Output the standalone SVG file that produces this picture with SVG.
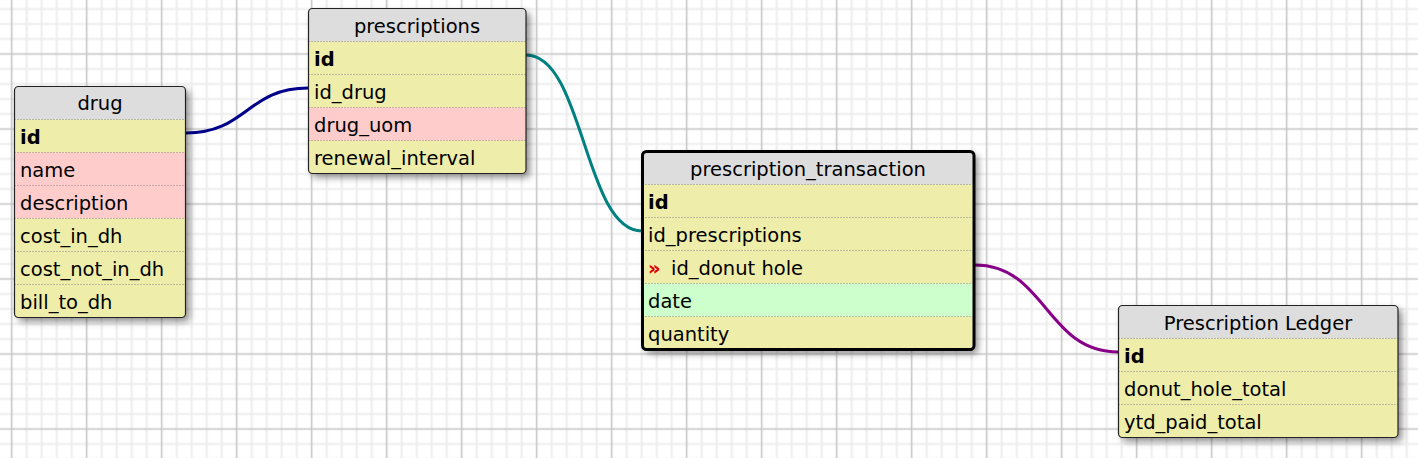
<svg xmlns="http://www.w3.org/2000/svg" width="1418" height="458" viewBox="0 0 1418 458">
<style>
.t{font-family:"DejaVu Sans","Verdana",sans-serif;font-size:19.5px;fill:#000}
.h{text-anchor:middle}
.b{font-weight:bold}
.hd{fill:#dddddd}
.r{fill:#eeeeaa}
.p{fill:#ffcccc}
.g{fill:#ccffcc}
.sep{stroke:#888;stroke-width:1;stroke-dasharray:1,2}
.bd{fill:none;stroke:#222;stroke-width:1.2}
.bd3{fill:none;stroke:#000;stroke-width:3}
.c{fill:none;stroke-width:3}
</style>
<defs>
<pattern id="grid" patternUnits="userSpaceOnUse" x="4.2" y="46.5" width="75" height="75">
<path d="M22.5,0V75M37.5,0V75M52.5,0V75M67.5,0V75M0,22.5H75M0,37.5H75M0,52.5H75M0,67.5H75" stroke="#ededed" stroke-width="2" fill="none"/>
<path d="M7.5,0V75M0,7.5H75" stroke="#c4c4c4" stroke-width="1.5" fill="none"/>
</pattern>
<filter id="sh" x="-10%" y="-10%" width="130%" height="130%">
<feDropShadow dx="4" dy="4" stdDeviation="3.5" flood-color="#000" flood-opacity="0.45"/>
</filter>
</defs>
<rect width="1418" height="458" fill="#ffffff"/>
<rect width="1418" height="458" fill="url(#grid)"/>

<g id="connectors">
<path class="c" stroke="#00008b" d="M186,133 C247,133 247,88 308,88"/>
<path class="c" stroke="#008080" d="M526,55 C584,55 584,231 642,231"/>
<path class="c" stroke="#880088" d="M975,265 C1046,265 1046,352 1118,352"/>
</g>

<g id="drug">
<rect x="14.5" y="86.5" width="171" height="231" rx="4" fill="#eeeeaa" filter="url(#sh)"/>
<path class="hd" d="M14.5,119.5V90.5a4,4 0 0 1 4,-4H181.5a4,4 0 0 1 4,4V119.5Z"/>
<rect class="p" x="14.5" y="152.5" width="171" height="66"/>
<path class="sep" d="M14.5,119.5H185.5M14.5,152.5H185.5M14.5,185.5H185.5M14.5,218.5H185.5M14.5,251.5H185.5M14.5,284.5H185.5"/>
<rect class="bd" x="14.5" y="86.5" width="171" height="231" rx="4"/>
<text class="t h" x="100" y="109.5">drug</text>
<text class="t b" x="20" y="143.5">id</text>
<text class="t" x="20" y="176.5">name</text>
<text class="t" x="20" y="209.5">description</text>
<text class="t" x="20" y="242.5">cost_in_dh</text>
<text class="t" x="20" y="275.5">cost_not_in_dh</text>
<text class="t" x="20" y="308.5">bill_to_dh</text>
</g>

<g id="prescriptions">
<rect x="308.5" y="8.5" width="217.5" height="165" rx="4" fill="#eeeeaa" filter="url(#sh)"/>
<path class="hd" d="M308.5,41.5V12.5a4,4 0 0 1 4,-4H522a4,4 0 0 1 4,4V41.5Z"/>
<rect class="p" x="308.5" y="107.5" width="217.5" height="33"/>
<path class="sep" d="M308.5,41.5H526M308.5,74.5H526M308.5,107.5H526M308.5,140.5H526"/>
<rect class="bd" x="308.5" y="8.5" width="217.5" height="165" rx="4"/>
<text class="t h" x="417" y="32.5">prescriptions</text>
<text class="t b" x="314" y="65.5">id</text>
<text class="t" x="314" y="98.5">id_drug</text>
<text class="t" x="314" y="131.5">drug_uom</text>
<text class="t" x="314" y="164.5">renewal_interval</text>
</g>

<g id="prescription_transaction">
<rect x="642.5" y="151.5" width="331.5" height="198" rx="4" fill="#eeeeaa" filter="url(#sh)"/>
<path class="hd" d="M642.5,184.5V155.5a4,4 0 0 1 4,-4H970a4,4 0 0 1 4,4V184.5Z"/>
<rect class="g" x="642.5" y="283.5" width="331.5" height="33"/>
<path class="sep" d="M642.5,184.5H974M642.5,217.5H974M642.5,250.5H974M642.5,283.5H974M642.5,316.5H974"/>
<rect class="bd3" x="642.5" y="151.5" width="331.5" height="198" rx="4"/>
<text class="t h" x="808" y="175.5">prescription_transaction</text>
<text class="t b" x="648" y="208.5">id</text>
<text class="t" x="648" y="241.5">id_prescriptions</text>
<text class="t b" x="648" y="274.5" style="fill:#e00000">»</text>
<text class="t" x="671" y="274.5">id_donut hole</text>
<text class="t" x="648" y="307.5">date</text>
<text class="t" x="648" y="340.5">quantity</text>
</g>

<g id="prescription_ledger">
<rect x="1118.5" y="305.5" width="279.5" height="132" rx="4" fill="#eeeeaa" filter="url(#sh)"/>
<path class="hd" d="M1118.5,338.5V309.5a4,4 0 0 1 4,-4H1394a4,4 0 0 1 4,4V338.5Z"/>
<path class="sep" d="M1118.5,338.5H1398M1118.5,371.5H1398M1118.5,404.5H1398"/>
<rect class="bd" x="1118.5" y="305.5" width="279.5" height="132" rx="4"/>
<text class="t h" x="1258" y="329.5">Prescription Ledger</text>
<text class="t b" x="1124" y="362.5">id</text>
<text class="t" x="1124" y="395.5">donut_hole_total</text>
<text class="t" x="1124" y="428.5">ytd_paid_total</text>
</g>
</svg>
